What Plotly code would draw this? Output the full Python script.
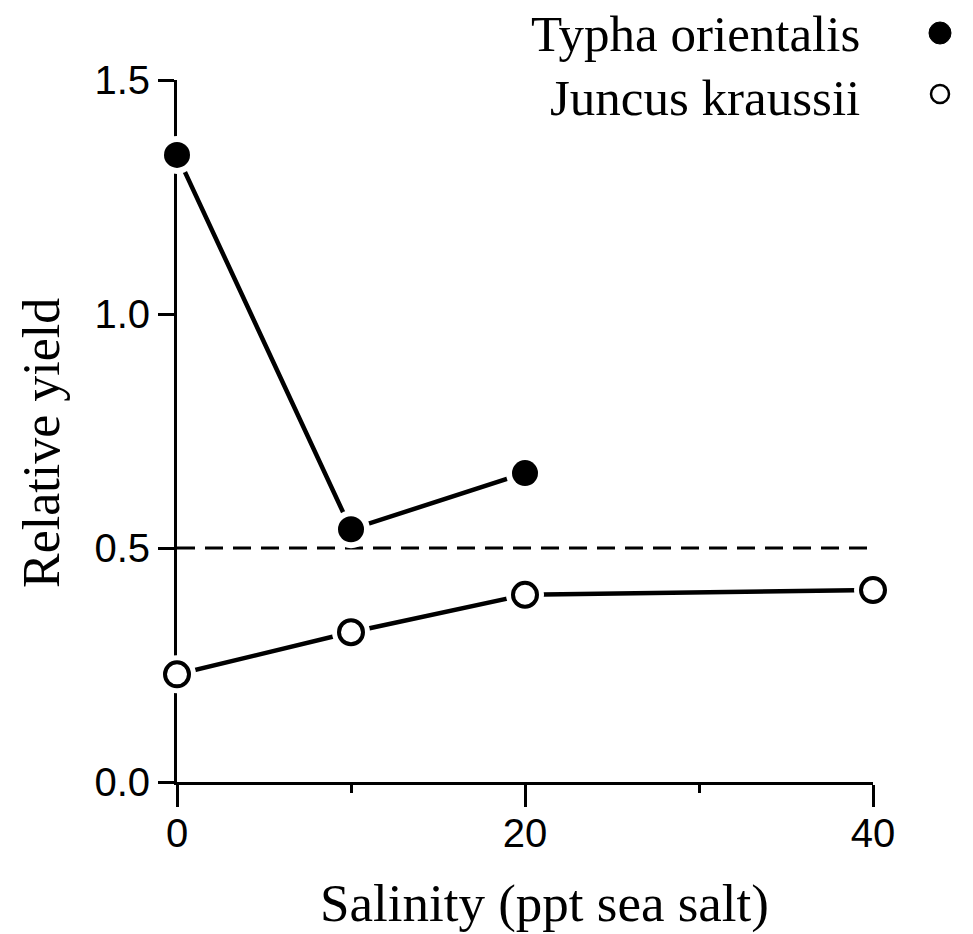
import plotly.graph_objects as go

# Relative yield vs salinity for two wetland species
salinity_typha = [0, 10, 20]
yield_typha = [1.34, 0.54, 0.66]

salinity_juncus = [0, 10, 20, 40]
yield_juncus = [0.23, 0.32, 0.40, 0.41]

half_yield_x = [0, 40]
half_yield_y = [0.5, 0.5]

x_tick_vals = [0, 20, 40]
x_tick_text = ["0", "20", "40"]
x_minor_vals = [10, 30]
y_tick_vals = [0, 0.5, 1.0, 1.5]
y_tick_text = ["0.0", "0.5", "1.0", "1.5"]

W, H = 973, 934
L, R, T, B = 177, 100, 80, 152
PW, PH = W - L - R, H - T - B


def px(x):
    return (x - L) / PW


def py(y):
    return (H - B - y) / PH


fig = go.Figure()

# dashed 50% reference line
fig.add_trace(go.Scatter(
    x=half_yield_x, y=half_yield_y, mode="lines",
    line=dict(color="black", width=3, dash="18px,10px"),
    hoverinfo="skip", cliponaxis=False,
))

# connecting lines
for xs, ys in [(salinity_typha, yield_typha), (salinity_juncus, yield_juncus)]:
    fig.add_trace(go.Scatter(
        x=xs, y=ys, mode="lines",
        line=dict(color="black", width=4.5),
        cliponaxis=False,
    ))

# white halos so lines stop short of the markers
for xs, ys in [(salinity_typha, yield_typha), (salinity_juncus, yield_juncus)]:
    fig.add_trace(go.Scatter(
        x=xs, y=ys, mode="markers",
        marker=dict(symbol="circle", size=38, color="white", line=dict(width=0)),
        cliponaxis=False,
    ))

fig.add_trace(go.Scatter(
    x=salinity_typha, y=yield_typha, mode="markers",
    marker=dict(symbol="circle", size=26, color="black", line=dict(width=0)),
    cliponaxis=False,
))
fig.add_trace(go.Scatter(
    x=salinity_juncus, y=yield_juncus, mode="markers",
    marker=dict(symbol="circle", size=24, color="white",
                line=dict(color="black", width=4)),
    cliponaxis=False,
))

tick_font = dict(family="Liberation Sans, Arial, sans-serif", size=40, color="black")
serif = "Liberation Serif, Times New Roman, serif"

fig.update_xaxes(
    range=[0, 40], showgrid=False, zeroline=False,
    showline=True, linecolor="black", linewidth=3,
    ticks="outside", ticklen=22, tickwidth=3, tickcolor="black",
    tickvals=x_tick_vals, ticktext=x_tick_text, tickfont=tick_font,
    ticklabelstandoff=-8,
    minor=dict(tickvals=x_minor_vals, ticks="outside", ticklen=8,
               tickwidth=3, tickcolor="black"),
    layer="below traces",
)
fig.update_yaxes(
    range=[0, 1.5], showgrid=False, zeroline=False,
    showline=True, linecolor="black", linewidth=3,
    ticks="outside", ticklen=16, tickwidth=3, tickcolor="black",
    tickvals=y_tick_vals, ticktext=y_tick_text, tickfont=tick_font,
    layer="below traces",
)

annotations = [
    dict(text="Salinity (ppt sea salt)", x=px(544), y=py(903),
         xref="paper", yref="paper", showarrow=False,
         font=dict(family=serif, size=53, color="black"),
         xanchor="center", yanchor="middle"),
    dict(text="Relative yield", x=px(42), y=py(443),
         xref="paper", yref="paper", showarrow=False, textangle=-90,
         font=dict(family=serif, size=52, color="black"),
         xanchor="center", yanchor="middle"),
    dict(text="Typha orientalis", x=px(862), y=py(34),
         xref="paper", yref="paper", showarrow=False,
         font=dict(family=serif, size=51, color="black"),
         xanchor="right", yanchor="middle"),
    dict(text="Juncus kraussii", x=px(862), y=py(98),
         xref="paper", yref="paper", showarrow=False,
         font=dict(family=serif, size=51, color="black"),
         xanchor="right", yanchor="middle"),
]

shapes = [
    dict(type="circle", xref="paper", yref="paper",
         x0=px(929), x1=px(951), y0=py(44), y1=py(22),
         fillcolor="black", line=dict(color="black", width=1)),
    dict(type="circle", xref="paper", yref="paper",
         x0=px(931), x1=px(949), y0=py(103), y1=py(85),
         fillcolor="white", line=dict(color="black", width=2.5)),
]

fig.update_layout(
    width=W, height=H,
    margin=dict(l=L, r=R, t=T, b=B),
    paper_bgcolor="white", plot_bgcolor="white",
    showlegend=False,
    annotations=annotations, shapes=shapes,
)

fig.write_html("out.html")
